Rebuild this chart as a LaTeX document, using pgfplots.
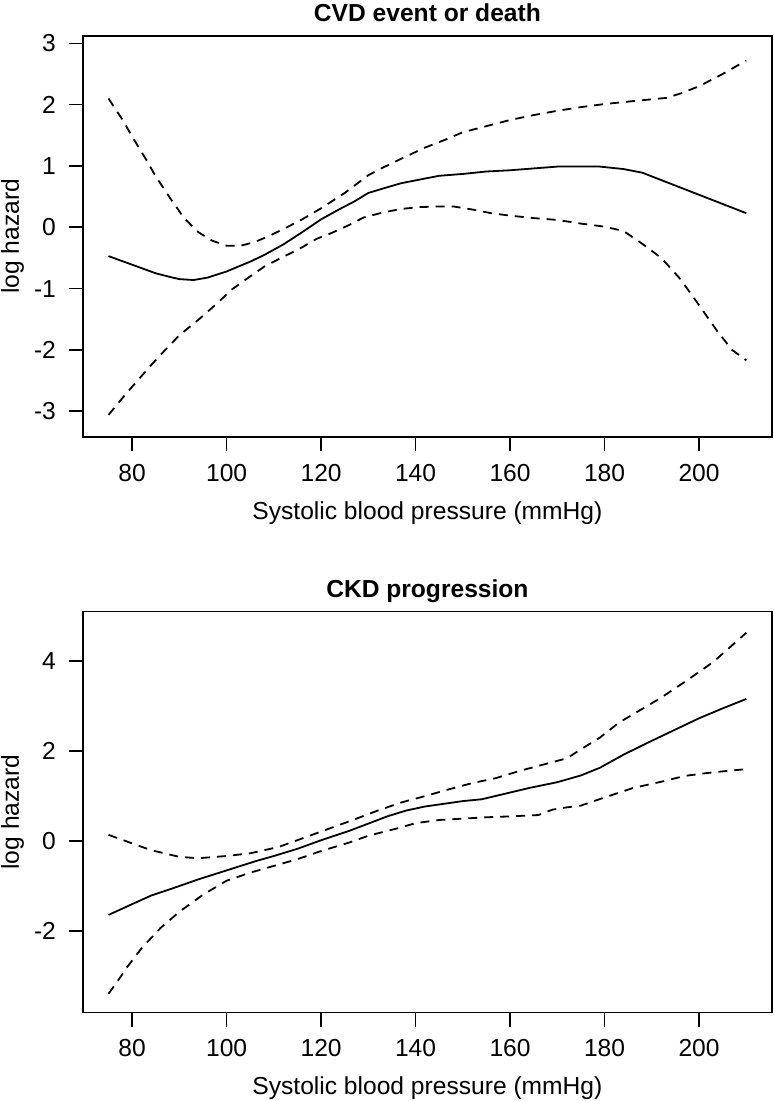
\documentclass[border=0pt]{standalone}
\usepackage{fontspec}
\setmainfont{Liberation Sans}
\usepackage{pgfplots}
\pgfplotsset{compat=1.18}

\pgfplotsset{
  rpanel/.style={
    scale only axis, width=344.4pt, height=200.5pt,
    xmin=69.6, xmax=215.4,
    xtick={80,100,...,200},
    tick align=outside, major tick length=7pt,
    xtick pos=bottom, ytick pos=left,
    axis line style={line width=0.8pt}, tick style={line width=0.8pt, black},
    /pgf/number format/assume math mode=true,
    tick label style={font=\fontsize{12.3}{14}\selectfont},
    label style={font=\fontsize{12.3}{14}\selectfont},
    title style={font=\fontsize{12.3}{14}\selectfont\bfseries,
      at={(axis description cs:0.5,1.006)}, anchor=base},
    xlabel style={at={(axis description cs:0.5,-0.205)}, anchor=base},
    ylabel style={at={(axis description cs:-0.093,0.5)}, anchor=base},
    xlabel={Systolic blood pressure (mmHg)},
    ylabel={log hazard},
    yticklabel style={xshift=-3pt},
    xticklabel style={yshift=-3pt},
  },
  est/.style={black, line width=0.9pt},
  ci/.style={black, line width=0.9pt, dash pattern=on 4.5pt off 3.5pt},
}

\begin{document}
\begin{tikzpicture}
\useasboundingbox (-41.5pt,-332pt) rectangle (345pt,218.5pt);

% top: CVD event or death
\begin{axis}[rpanel, at={(0,0)}, title={CVD event or death},
  ymin=-3.42, ymax=3.12, ytick={-3,-2,...,3}]
\addplot[est] coordinates {(75,-0.47)(80,-0.61)(85,-0.75)(88,-0.81)(90,-0.845)(93,-0.86)(96,-0.82)(100,-0.72)(105,-0.56)(108,-0.45)(112,-0.28)(116,-0.08)(120,0.13)(124,0.30)(127,0.42)(130,0.56)(133,0.63)(137,0.72)(141,0.78)(145,0.84)(150,0.87)(155,0.91)(160,0.93)(165,0.96)(170,0.99)(175,0.99)(179,0.99)(184,0.95)(188,0.89)(194,0.71)(200,0.53)(205,0.38)(210,0.23)};
\addplot[ci] coordinates {(75,2.10)(78,1.75)(80,1.48)(83,1.10)(85,0.83)(88,0.48)(91,0.15)(94,-0.08)(97,-0.22)(100,-0.30)(103,-0.30)(106,-0.24)(109,-0.14)(112,-0.03)(116,0.13)(120,0.31)(125,0.56)(130,0.85)(133,0.97)(137,1.12)(142,1.30)(146,1.42)(150,1.55)(155,1.65)(160,1.75)(165,1.83)(170,1.90)(175,1.96)(180,2.01)(185,2.05)(189,2.08)(193,2.11)(196,2.18)(200,2.30)(205,2.50)(210,2.72)};
\addplot[ci] coordinates {(75,-3.06)(78,-2.78)(80,-2.60)(84,-2.25)(87,-2.00)(90,-1.76)(94,-1.51)(98,-1.24)(101,-1.02)(105,-0.80)(108,-0.64)(112,-0.48)(115,-0.37)(119,-0.19)(122,-0.10)(126,0.04)(129,0.16)(133,0.24)(137,0.30)(141,0.33)(145,0.34)(148,0.34)(152,0.29)(156,0.23)(160,0.19)(165,0.15)(170,0.12)(175,0.06)(180,0.01)(184,-0.06)(188,-0.27)(192,-0.50)(196,-0.84)(200,-1.27)(204,-1.71)(207,-2.00)(210,-2.17)};
\end{axis}

% bottom: CKD progression
\begin{axis}[rpanel, at={(0,-287.8pt)}, title={CKD progression},
  ymin=-3.81, ymax=5.10, ytick={-2,0,2,4}]
\addplot[est] coordinates {(75,-1.64)(80,-1.40)(84,-1.21)(88,-1.07)(94,-0.85)(100,-0.65)(106,-0.45)(110,-0.33)(115,-0.17)(120,0.02)(126,0.23)(130,0.39)(134,0.55)(138,0.68)(142,0.77)(146,0.83)(150,0.89)(154,0.93)(158,1.03)(164,1.18)(170,1.31)(175,1.46)(179,1.63)(184,1.92)(189,2.18)(195,2.48)(200,2.73)(205,2.95)(210,3.16)};
\addplot[ci] coordinates {(75,0.14)(80,-0.05)(84,-0.20)(90,-0.35)(94,-0.38)(100,-0.33)(105,-0.27)(111,-0.13)(116,0.06)(122,0.29)(127,0.48)(132,0.68)(137,0.86)(142,1.00)(147,1.15)(152,1.29)(157,1.40)(162,1.56)(167,1.70)(172,1.84)(175,2.04)(179,2.30)(183,2.63)(188,2.94)(192,3.19)(197,3.54)(203,3.98)(210,4.63)};
\addplot[ci] coordinates {(75,-3.39)(77,-3.10)(79,-2.79)(82,-2.38)(86,-1.93)(90,-1.57)(95,-1.19)(100,-0.88)(105,-0.70)(110,-0.55)(115,-0.40)(120,-0.22)(126,-0.03)(130,0.12)(136,0.28)(140,0.40)(145,0.47)(150,0.50)(155,0.53)(160,0.55)(166,0.58)(169,0.70)(172,0.75)(175,0.79)(180,0.97)(186,1.18)(192,1.32)(197,1.45)(203,1.53)(210,1.60)};
\end{axis}
\end{tikzpicture}
\end{document}
